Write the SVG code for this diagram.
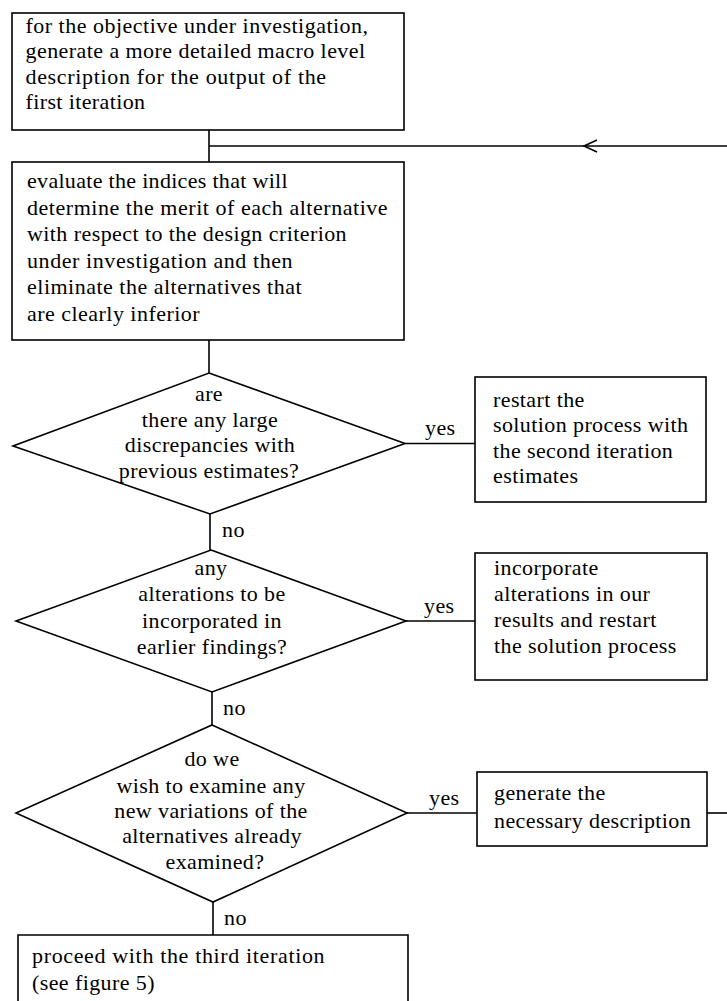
<svg xmlns="http://www.w3.org/2000/svg" width="727" height="1001" viewBox="0 0 727 1001">
<style>
.box{fill:none;stroke:#000;stroke-width:1.6}
.edge{fill:none;stroke:#000;stroke-width:1.6}
.t{font-family:"Liberation Serif","Times New Roman",serif;font-size:22px;fill:#000;letter-spacing:0.4px}
.c{text-anchor:middle}
</style>
<rect width="727" height="1001" fill="#fff"/>
<g id="connectors">
<path class="edge" d="M209,130 V162"/>
<path class="edge" d="M209,146 H727"/>
<path class="edge" d="M597,140 L584,146 L597,152"/>
<path class="edge" d="M209,340 V373"/>
<path class="edge" d="M405,443.5 H475"/>
<path class="edge" d="M210,514 V550"/>
<path class="edge" d="M406,621 H475"/>
<path class="edge" d="M212,692 V725"/>
<path class="edge" d="M407,813 H477"/>
<path class="edge" d="M707,813 H727"/>
<path class="edge" d="M213,902 V935"/>
<text class="t" x="425" y="435">yes</text>
<text class="t" x="222" y="537">no</text>
<text class="t" x="424" y="613">yes</text>
<text class="t" x="223" y="715">no</text>
<text class="t" x="429" y="805">yes</text>
<text class="t" x="224" y="925">no</text>
</g>
<g id="n1">
<rect class="box" x="12" y="13" width="392" height="117"/>
<text class="t" x="25.5" y="33" textLength="343" lengthAdjust="spacing">for the objective under investigation,</text>
<text class="t" x="25.5" y="58" textLength="340" lengthAdjust="spacing">generate a more detailed macro level</text>
<text class="t" x="25.5" y="84" textLength="301" lengthAdjust="spacing">description for the output of the</text>
<text class="t" x="25.5" y="109" textLength="120" lengthAdjust="spacing">first iteration</text>
</g>
<g id="n2">
<rect class="box" x="12" y="162" width="392" height="178"/>
<text class="t" x="27" y="188" textLength="261" lengthAdjust="spacing">evaluate the indices that will</text>
<text class="t" x="27" y="214.6" textLength="361" lengthAdjust="spacing">determine the merit of each alternative</text>
<text class="t" x="27" y="241.2" textLength="320" lengthAdjust="spacing">with respect to the design criterion</text>
<text class="t" x="27" y="267.8" textLength="266" lengthAdjust="spacing">under investigation and then</text>
<text class="t" x="27" y="294.4" textLength="275" lengthAdjust="spacing">eliminate the alternatives that</text>
<text class="t" x="27" y="321" textLength="173" lengthAdjust="spacing">are clearly inferior</text>
</g>
<g id="d1">
<polygon class="box" points="209,373 405,443.5 210,514 13,446"/>
<text class="t c" x="209" y="401">are</text>
<text class="t c" x="210" y="426.5">there any large</text>
<text class="t c" x="210" y="452">discrepancies with</text>
<text class="t c" x="209" y="477.5">previous estimates?</text>
</g>
<g id="b1">
<rect class="box" x="475" y="377" width="231" height="125"/>
<text class="t" x="493" y="407">restart the</text>
<text class="t" x="493" y="432">solution process with</text>
<text class="t" x="493" y="458">the second iteration</text>
<text class="t" x="493" y="483">estimates</text>
</g>
<g id="d2">
<polygon class="box" points="211,550 406,621 212,692 16,621"/>
<text class="t c" x="211" y="575">any</text>
<text class="t c" x="212" y="601">alterations to be</text>
<text class="t c" x="212" y="628">incorporated in</text>
<text class="t c" x="212" y="654">earlier findings?</text>
</g>
<g id="b2">
<rect class="box" x="475" y="553" width="232" height="127"/>
<text class="t" x="494" y="575">incorporate</text>
<text class="t" x="494" y="601">alterations in our</text>
<text class="t" x="494" y="627">results and restart</text>
<text class="t" x="494" y="653">the solution process</text>
</g>
<g id="d3">
<polygon class="box" points="212,725 407,813 213,902 16,813"/>
<text class="t c" x="212" y="766">do we</text>
<text class="t c" x="211" y="793">wish to examine any</text>
<text class="t c" x="211" y="818">new variations of the</text>
<text class="t c" x="212" y="843">alternatives already</text>
<text class="t c" x="215" y="869">examined?</text>
</g>
<g id="b3">
<rect class="box" x="477" y="772" width="230" height="74"/>
<text class="t" x="494" y="800">generate the</text>
<text class="t" x="494" y="828">necessary description</text>
</g>
<g id="n3">
<path class="box" d="M18,1003 V935 H408 V1003"/>
<text class="t" x="32" y="963" textLength="293" lengthAdjust="spacing">proceed with the third iteration</text>
<text class="t" x="32" y="990">(see figure 5)</text>
</g>
</svg>
